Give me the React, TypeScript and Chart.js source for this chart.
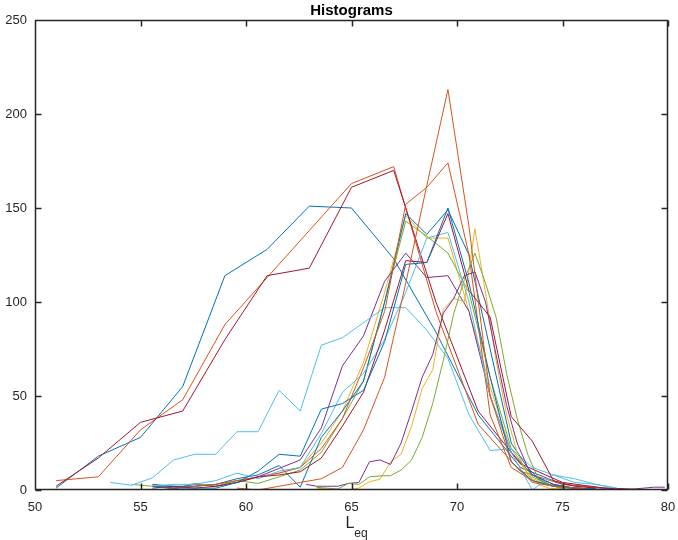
import React, { useEffect, useRef } from "react";
import { Chart, registerables } from "chart.js";

Chart.register(...registerables);

const FONT = '"Liberation Sans", Arial, Helvetica, sans-serif';
const INK = "#262626";

const titleText = "Histograms";
const xLabelMain = "L";
const xLabelSub = "eq";
const xTicks = [50, 55, 60, 65, 70, 75, 80];
const yTicks = [0, 50, 100, 150, 200, 250];

// MATLAB default colour order
const palette = ["#0072BD", "#D95319", "#EDB120", "#7E2F8E", "#77AC30", "#4DBEEE", "#A2142F"];

// 2 dB bins (wide distributions)
const binsWide = [51, 53, 55, 57, 59, 61, 63, 65, 67, 69, 71, 73, 75, 77, 79];
const wideBlue = [1, 18, 28, 55, 114, 128, 151, 150, 123, 84, 40, 12, 3, 1, 0];
const wideOrange = [5, 7, 32, 48, 88, 113, 138, 163, 172, 95, 35, 10, 3, 1, 0];
const wideDarkRed = [2, 17, 36, 42, 80, 114, 118, 161, 170, 100, 42, 14, 4, 1, 0];

// 1 dB bins
const binsFine = [53.57, 54.57, 55.57, 56.57, 57.57, 58.57, 59.57, 60.57, 61.57, 62.57, 63.57, 64.57, 65.57, 66.57, 67.57, 68.57, 69.57, 70.57, 71.57, 72.57, 73.57, 74.57, 75.57, 76.57, 77.57, 78.57, 79.57];
const lightBlueWide = [4, 2.5, 6.5, 16, 19, 19, 31, 31, 53, 42, 77, 81, 89, 97, 97, 85, 70, 40, 21, 22, 12, 8, 6, 3, 1, null, null];
const yellowMid = [null, null, 3, 1, 2, 3, 5, 7, 9, 12, 25, 42, 68, 105, 146, 134, 134, 95, 55, 20, 6, 2, 1, null, null, null, null];
const purpleMid = [null, null, 2, 1, 3, 2, 4, 7, 11.5, 16, 33, 66, 82, 111, 126, 113, 114, 95, 50, 20, 8, 3, 1, 0.5, null, null, null];
const greenMid = [null, 3, 2, 0.5, 3.5, 2, 5, 3.5, 7, 10.6, 20, 38, 58, 100, 143, 135, 126, 105, 60, 22, 7, 2, 1, null, null, null, null];
const blueA = [null, null, 3, 2, 2, 3, 6, 8, 13, 1.5, 28, 42, 58, 100, 147, 136, 149, 125, 75, 25, 8, 3, 1, 0.5, null, null, null];
const blueB = [null, null, 2, 1, 1, 1, 4, 10, 19, 18, 43, 46, 53, 79, 120, 121, 150, 110, 60, 15, 5, 2, 1, 0.5, null, null, null];
const orange174 = [null, null, 2, 1, 2, 3, 5, 7, 9, 12, 22, 38, 65, 95, 152, 161, 174, 125, 40, 12, 5, 2, 1, 0.5, null, null, null];
const orange213 = [null, null, null, null, null, null, 1, 0, 2, 4, 6, 12, 32, 60, 110, 162, 213, 140, 50, 15, 4, 2, 1, 0, null, null, null];
const lightBlueNarrow = [null, null, 2, 3, 3, 5, 9, 6, 10, 12, 30, 52, 62, 80, 105, 134, 137, 100, 50, 20, 0, 8, 4, 3, 1, null, null];
const darkRedNarrow = [null, null, 1, 2, 1, 2, 4, 7, 8, 9.7, 17, 34, 52, 85, 122, 121, 147, 106, 92, 39, 26, 5, 2, 1, null, null, null];

// 0.5 dB bins (late distributions)
const binsHalf = [62.85, 63.35, 63.85, 64.35, 64.85, 65.35, 65.85, 66.35, 66.85, 67.35, 67.85, 68.35, 68.85, 69.35, 69.85, 70.35, 70.85, 71.35, 71.85, 72.35, 72.85, 73.35, 73.85, 74.35, 74.85, 75.35, 75.85, 76.35, 76.85, 77.35, 77.85, 78.35, 78.85, 79.35, 79.85];
const purpleLate = [3, 2, 2, 2, 3.5, 4, 15, 16, 13.6, 25, 42, 60, 72, 94, 102, 114, 116, 100, 72, 45, 25, 12, 6, 3, 2, 1, 1, 0.5, 0.5, 0.3, 0, 0.5, 1, 1.5, 1.5];
const yellowLate = [null, 1, 0.5, 0, 0, 1, 4.4, 5.7, 15, 19, 34, 54, 64, 96, 102, 100, 139, 105, 69, 40, 20, 8, 3, 1, 0.5, 0, 0, null, null, null, null, null, null, null, null];
const greenLate = [null, 1.4, 1, 0.5, 3.5, 3, 7, 7.5, 7.6, 10.6, 16, 28, 46, 69, 94, 112, 126, 110, 92, 62, 38, 19, 6, 3, 1, 0.5, 0, null, null, null, null, null, null, null, null];

// plotting order (MATLAB cycles through the colour order)
const seriesList: [number[], (number | null)[]][] = [
  [binsWide, wideBlue],
  [binsWide, wideOrange],
  [binsFine, yellowMid],
  [binsFine, purpleMid],
  [binsFine, greenMid],
  [binsFine, lightBlueWide],
  [binsWide, wideDarkRed],
  [binsFine, blueA],
  [binsFine, orange174],
  [binsHalf, yellowLate],
  [binsHalf, purpleLate],
  [binsHalf, greenLate],
  [binsFine, lightBlueNarrow],
  [binsFine, darkRedNarrow],
  [binsFine, blueB],
  [binsFine, orange213],
];

const matlabAxes = {
  id: "matlabAxes",
  afterDatasetsDraw(chart: any) {
    const { ctx, chartArea: a, scales } = chart;
    const x = scales.x;
    const y = scales.y;
    ctx.save();
    ctx.strokeStyle = INK;
    ctx.lineWidth = 1.5;
    const L = Math.round(a.left) + 0.5;
    const R = Math.round(a.right) - 0.5;
    const T = Math.round(a.top) + 0.5;
    const B = Math.round(a.bottom) - 0.5;
    const tl = 6;
    ctx.beginPath();
    ctx.rect(L, T, R - L, B - T);
    for (const v of xTicks) {
      const p = Math.round(x.getPixelForValue(v)) + 0.5;
      ctx.moveTo(p, B);
      ctx.lineTo(p, B - tl);
      ctx.moveTo(p, T);
      ctx.lineTo(p, T + tl);
    }
    for (const v of yTicks) {
      const p = Math.round(y.getPixelForValue(v)) + 0.5;
      ctx.moveTo(L, p);
      ctx.lineTo(L + tl, p);
      ctx.moveTo(R, p);
      ctx.lineTo(R - tl, p);
    }
    ctx.stroke();

    const cx = (a.left + a.right) / 2;
    ctx.fillStyle = "#000";
    ctx.font = `bold 15px ${FONT}`;
    ctx.textAlign = "center";
    ctx.textBaseline = "alphabetic";
    ctx.fillText(titleText, cx, 15);

    ctx.fillStyle = INK;
    ctx.font = `16px ${FONT}`;
    const wMain = ctx.measureText(xLabelMain).width;
    ctx.font = `12px ${FONT}`;
    const wSub = ctx.measureText(xLabelSub).width;
    const start = cx - (wMain + wSub) / 2 + 5;
    ctx.textAlign = "left";
    ctx.font = `16px ${FONT}`;
    ctx.fillText(xLabelMain, start, 528);
    ctx.font = `12px ${FONT}`;
    ctx.fillText(xLabelSub, start + wMain, 537);
    ctx.restore();
  },
};

export default function App() {
  const ref = useRef<HTMLCanvasElement | null>(null);
  useEffect(() => {
    const canvas = ref.current;
    if (!canvas) return;
    const datasets = seriesList.map(([xs, ys], i) => ({
      data: xs.map((xv, j) => ({ x: xv, y: ys[j] })),
      borderColor: palette[i % palette.length],
      backgroundColor: palette[i % palette.length],
      borderWidth: 1,
      pointRadius: 0,
      showLine: true,
      fill: false,
      tension: 0,
      spanGaps: false,
      order: seriesList.length - i,
    }));
    const chart = new Chart(canvas, {
      type: "scatter",
      data: { datasets },
      options: {
        animation: false,
        responsive: false,
        devicePixelRatio: 1,
        events: [],
        layout: { padding: { left: 0, right: 10, top: 20, bottom: 0 } },
        plugins: {
          legend: { display: false },
          title: { display: false },
          tooltip: { enabled: false },
        },
        scales: {
          x: {
            type: "linear",
            min: 50,
            max: 80,
            grid: { display: false },
            border: { display: false },
            afterBuildTicks: (s: any) => {
              s.ticks = xTicks.map((v) => ({ value: v }));
            },
            afterFit: (s: any) => {
              s.height = 50;
            },
            ticks: {
              color: INK,
              padding: 2,
              maxRotation: 0,
              font: { family: FONT, size: 13 },
            },
          },
          y: {
            type: "linear",
            min: 0,
            max: 250,
            grid: { display: false },
            border: { display: false },
            afterBuildTicks: (s: any) => {
              s.ticks = yTicks.map((v) => ({ value: v }));
            },
            afterFit: (s: any) => {
              s.width = 35;
            },
            ticks: {
              color: INK,
              padding: 0,
              font: { family: FONT, size: 13 },
            },
          },
        },
      },
      plugins: [matlabAxes],
    });
    return () => chart.destroy();
  }, []);

  return (
    <div style={{ position: "absolute", left: 0, top: 0, width: 678, height: 540, background: "#fff" }}>
      <canvas ref={ref} width={678} height={540} style={{ width: 678, height: 540, display: "block" }} />
    </div>
  );
}
